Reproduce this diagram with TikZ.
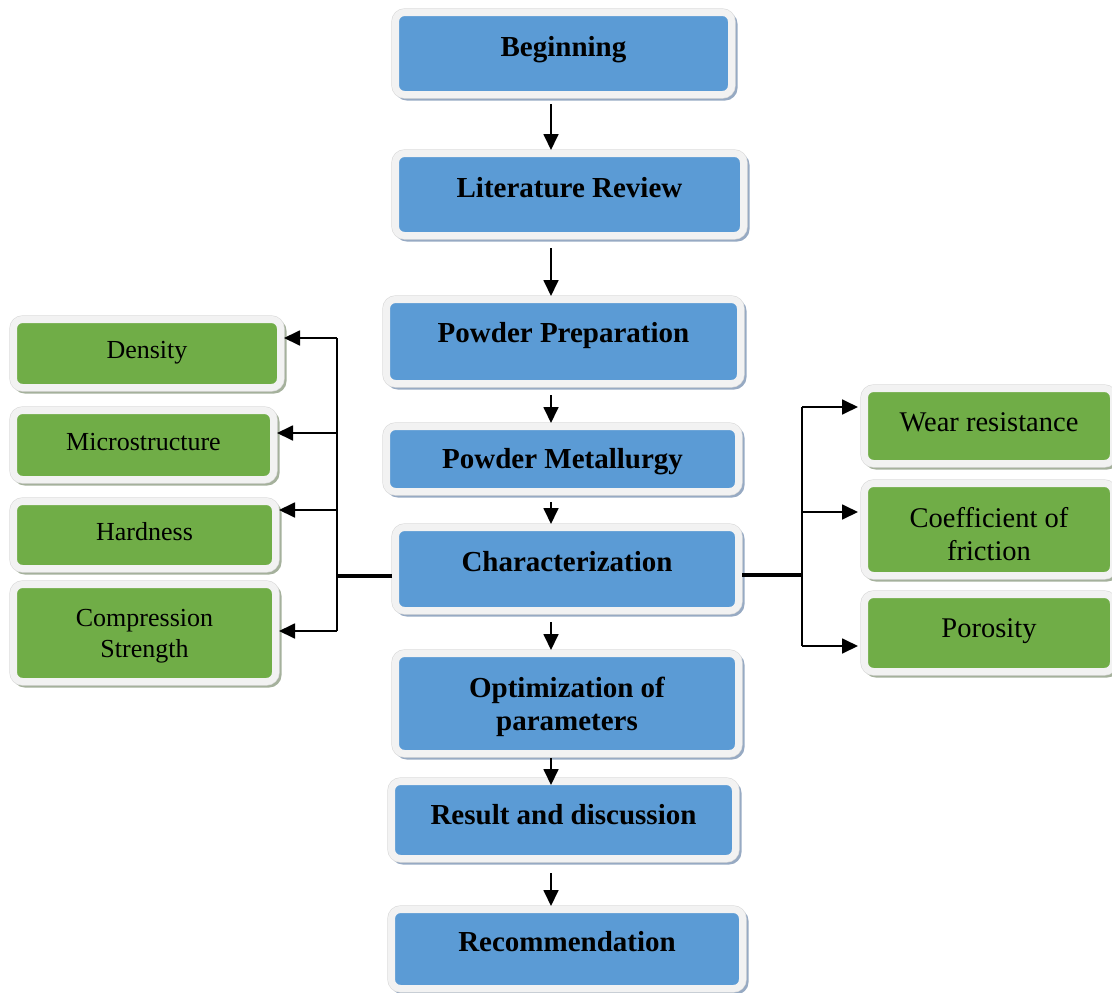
\documentclass[tikz,border=0pt]{standalone}
\usepackage{fontspec}
\setmainfont{Liberation Serif}
\usetikzlibrary{arrows.meta}
\definecolor{bluef}{HTML}{5B9BD5}
\definecolor{greenf}{HTML}{70AD47}
\definecolor{edgec}{HTML}{F2F2F2}
\definecolor{bshad}{HTML}{97AAC3}
\definecolor{gshad}{HTML}{A5B19C}
\definecolor{outl}{HTML}{DADADA}
\begin{document}
\begin{tikzpicture}[x=1pt,y=-1pt,
  box/.style={rounded corners=9pt, line width=7pt, draw=edgec, inner sep=0pt, align=center, text=black,
    preaction={draw=#1, line width=7pt, transform canvas={shift={(2.5pt,-2.5pt)}}},
    preaction={draw=outl, line width=8.2pt}},
  bbox/.style={box=bshad, fill=bluef, font=\fontsize{29}{33}\selectfont\bfseries},
  lbox/.style={box=gshad, fill=greenf, font=\fontsize{26}{31}\selectfont},
  rbox/.style={box=gshad, fill=greenf, font=\fontsize{28.5}{33}\selectfont},
  bone/.style={text height=20pt, text depth=#1},
  lone/.style={text height=18pt, text depth=#1},
  rone/.style={text height=19.5pt, text depth=#1},
  thinl/.style={line width=1.8pt},
  thickl/.style={line width=3.6pt},
  arr/.style={line width=1.8pt, -{Triangle[length=16pt,width=15pt]}}]
\path[use as bounding box] (0,0) rectangle (1112,993);
\clip (0,0) rectangle (1112,993);

% main column
\node[bbox, bone=13.8pt, minimum width=336pt, minimum height=82pt] (b1) at (563.5,53.5) {Beginning};
\node[bbox, bone=13.8pt, minimum width=348pt, minimum height=82pt] (b2) at (569.5,194.5) {Literature Review};
\node[bbox, bone=17.8pt, minimum width=354pt, minimum height=84pt] (b3) at (563.5,341.5) {Powder Preparation};
\node[bbox, bone=0.8pt, minimum width=352pt, minimum height=65pt] (b4) at (562.5,459) {Powder Metallurgy};
\node[bbox, bone=14.8pt, minimum width=343pt, minimum height=83pt] (b5) at (567,569) {Characterization};
\node[bbox, minimum width=343pt, minimum height=100pt] (b6) at (567,703.5) {\rule{0pt}{28pt}Optimization of\\parameters};
\node[bbox, bone=10.8pt, minimum width=344pt, minimum height=77pt] (b7) at (563.5,820) {Result and discussion};
\node[bbox, bone=14.8pt, minimum width=351pt, minimum height=79pt] (b8) at (567,949) {Recommendation};

% left column
\node[lbox, lone=7.8pt, minimum width=267pt, minimum height=68pt] (g1) at (147,353.5) {Density};
\node[lbox, lone=6.8pt, minimum width=260pt, minimum height=69pt] (g2) at (143.5,445) {Microstructure};
\node[lbox, lone=6.8pt, minimum width=262pt, minimum height=67pt] (g3) at (144.5,535) {Hardness};
\node[lbox, minimum width=262pt, minimum height=97pt] (g4) at (144.5,633) {\rule{0pt}{23.7pt}Compression\\Strength};

% right column
\node[rbox, rone=8.6pt, minimum width=249pt, minimum height=75pt] (r1) at (989,426) {Wear resistance};
\node[rbox, minimum width=249pt, minimum height=92pt] (r2) at (989,529.5) {\rule{0pt}{29.5pt}Coefficient of\\friction};
\node[rbox, rone=10.6pt, minimum width=249pt, minimum height=77pt] (r3) at (989,633) {Porosity};

% main arrows
\coordinate (ax) at (551,0);
\draw[arr] ([yshift=-6pt]b1.south -| ax) -- (b2.north -| ax);
\draw[arr] ([yshift=-9pt]b2.south -| ax) -- (b3.north -| ax);
\draw[arr] ([yshift=-8pt]b3.south -| ax) -- (b4.north -| ax);
\draw[arr] ([yshift=-7pt]b4.south -| ax) -- (b5.north -| ax);
\draw[arr] ([yshift=-8pt]b5.south -| ax) -- (b6.north -| ax);
\draw[arr] ([yshift=-1pt]b6.south -| ax) -- ([yshift=-7pt]b7.north -| ax);
\draw[arr] ([yshift=-11pt]b7.south -| ax) -- (b8.north -| ax);

% left branch
\coordinate (lj) at (337,576);
\coordinate (l1) at (337,338);
\coordinate (l2) at (337,433);
\coordinate (l3) at (337,510);
\coordinate (l4) at (337,631);
\draw[thickl] (b5.west |- lj) -- (lj);
\draw[thinl] (l1) -- (l4);
\draw[arr] (l1) -- (l1 -| g1.east);
\draw[arr] (l2) -- (l2 -| g2.east);
\draw[arr] (l3) -- (l3 -| g3.east);
\draw[arr] (l4) -- (l4 -| g4.east);

% right branch
\coordinate (rj) at (802,575);
\coordinate (q1) at (802,407);
\coordinate (q2) at (802,512);
\coordinate (q3) at (802,646);
\draw[thickl] (b5.east |- rj) -- (rj);
\draw[thinl] (q1) -- (q3);
\draw[arr] (q1) -- ([xshift=-3pt]q1 -| r1.west);
\draw[arr] (q2) -- ([xshift=-3pt]q2 -| r2.west);
\draw[arr] (q3) -- ([xshift=-3pt]q3 -| r3.west);
\end{tikzpicture}
\end{document}
